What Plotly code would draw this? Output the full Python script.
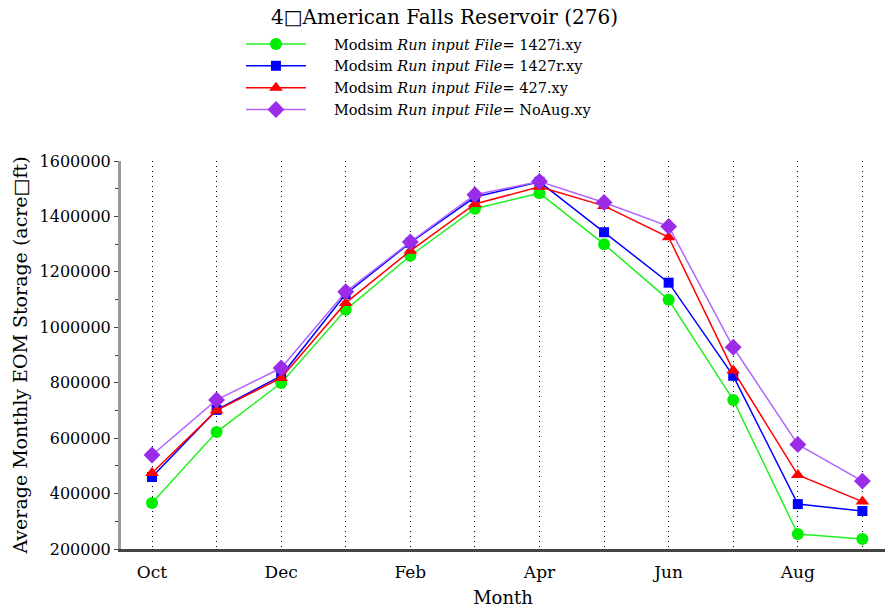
import plotly.graph_objects as go

months = ["Oct", "Nov", "Dec", "Jan", "Feb", "Mar", "Apr", "May", "Jun", "Jul", "Aug", "Sep"]
tick_labels = ["Oct", "", "Dec", "", "Feb", "", "Apr", "", "Jun", "", "Aug", ""]

run_1427i = [366000, 622000, 799000, 1063000, 1258000, 1428000, 1484000, 1300000, 1099000, 738000, 254000, 236000]
run_1427r = [460000, 702000, 825000, 1120000, 1305000, 1470000, 1525000, 1343000, 1161000, 825000, 362000, 337000]
run_427 = [474000, 700000, 817000, 1088000, 1276000, 1445000, 1507000, 1438000, 1325000, 844000, 467000, 371000]
run_noaug = [539000, 738000, 853000, 1128000, 1308000, 1478000, 1526000, 1450000, 1364000, 928000, 577000, 445000]

pad = "\u00a0" * 5
series = [
    (pad + "Modsim <i>Run input File</i>= 1427i.xy", run_1427i, "#22f022", "#00ee00", "circle", 12),
    (pad + "Modsim <i>Run input File</i>= 1427r.xy", run_1427r, "#0000ff", "#0000ff", "square", 10),
    (pad + "Modsim <i>Run input File</i>= 427.xy", run_427, "#ff0000", "#ff0000", "triangle-up", 12),
    (pad + "Modsim <i>Run input File</i>= NoAug.xy", run_noaug, "#b266ff", "#9a2be8", "diamond", 13),
]

x_idx = list(range(len(months)))
fig = go.Figure()
for name, vals, lc, mc, sym, sz in series:
    fig.add_trace(go.Scatter(
        x=x_idx, y=vals, name=name, mode="lines+markers",
        line=dict(color=lc, width=1.5),
        marker=dict(color=mc, symbol=sym, size=sz),
    ))

serif = "DejaVu Serif, Liberation Serif, serif"
fig.update_layout(
    width=889, height=610,
    margin=dict(l=121, r=4, t=161, b=61, autoexpand=False),
    paper_bgcolor="white", plot_bgcolor="white",
    font=dict(family=serif, color="black", size=15),
    title=dict(text="4\u25a1American Falls Reservoir (276)", x=0.5, xanchor="center",
               y=1 - 17 / 610, yanchor="middle", font=dict(size=20, family=serif)),
    legend=dict(x=0.157, xanchor="left", y=1.0 + (161 - 28) / 388, yanchor="top",
                font=dict(size=14.5, family=serif), itemwidth=60, tracegroupgap=0,
                bgcolor="rgba(0,0,0,0)"),
    showlegend=True,
)
fig.update_xaxes(
    range=[-0.48, 11.35], tickmode="array", tickvals=x_idx, ticktext=tick_labels,
    showgrid=True, gridcolor="black", griddash="1px,4px", gridwidth=1,
    showline=True, linecolor="#444444", linewidth=3, ticks="", zeroline=False,
    ticklabelstandoff=6,
    tickfont=dict(size=17), title=dict(text="Month", font=dict(size=18), standoff=10),
)
fig.update_yaxes(
    range=[200000, 1600000], tickmode="linear", tick0=200000, dtick=200000,
    showgrid=False, zeroline=False, showline=True, linecolor="#999999", linewidth=3,
    ticks="outside", ticklen=4, tickcolor="#444444", tickformat="d",
    minor=dict(dtick=100000, ticks="outside", ticklen=3, tickcolor="#444444"),
    tickfont=dict(size=16),
    title=dict(text="Average Monthly EOM Storage (acre\u25a1ft)", font=dict(size=19), standoff=7),
)
fig.write_html("out.html", config={"displayModeBar": False},
               post_script="document.body.style.margin='0';")
